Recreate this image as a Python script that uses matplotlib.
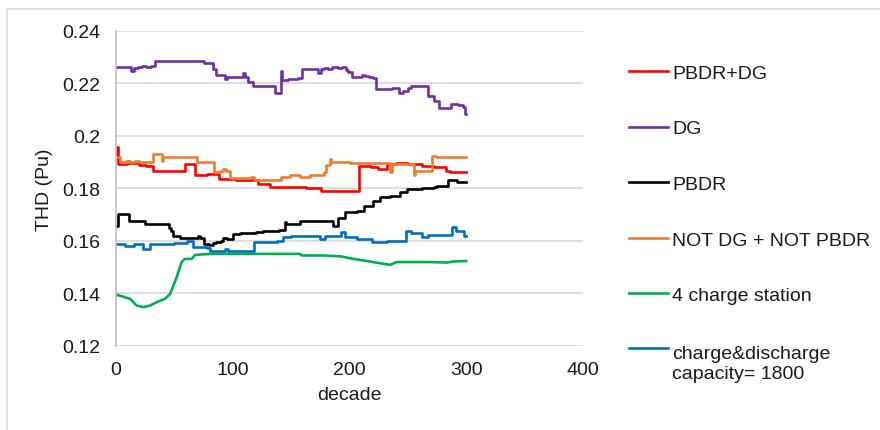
import matplotlib.pyplot as plt
from matplotlib.lines import Line2D
from matplotlib.patches import Rectangle

plt.rcParams['font.family'] = ['Liberation Sans', 'DejaVu Sans']

W, H = 880, 431  # output size in pixels
TEXT = '#1a1a1a'
FS = 14

labels = ['PBDR+DG', 'DG', 'PBDR', 'NOT DG + NOT PBDR', '4 charge station',
          'charge&discharge\ncapacity= 1800']
colors = ['#ff0000', '#7030a0', '#000000', '#ed7d31', '#00b050', '#0070c0']

# step series: x where a new value starts, and that value
pbdr_dg_x = [0, 0.5, 2, 9, 11, 20, 26, 32, 59, 68, 78, 88, 103, 110, 122, 132,
             150, 163, 176, 208, 218, 224, 232, 240, 250, 262, 272, 283, 286, 300]
pbdr_dg_y = [0.1930, 0.1957, 0.1893, 0.1906, 0.1895, 0.1890, 0.1886, 0.1868,
             0.1893, 0.1849, 0.1853, 0.1836, 0.1833, 0.1830, 0.1817, 0.1807,
             0.1804, 0.1800, 0.1791, 0.1886, 0.1880, 0.1874, 0.1893, 0.1897,
             0.1893, 0.1887, 0.1882, 0.1868, 0.1861, 0.1861]

dg_x = [0, 13, 15.5, 19, 22, 26, 30, 33, 73.5, 75, 83, 86, 93, 95.5, 109,
        110.5, 113, 117.5, 136, 141.5, 142.5, 147, 156, 159, 173, 175.5, 178,
        182, 185, 190, 194, 197, 199, 202, 211, 213, 217, 220, 223, 236, 242,
        246, 250, 253, 267, 272, 277, 287, 293, 297, 299, 300]
dg_y = [0.2262, 0.2249, 0.2258, 0.2262, 0.2266, 0.2264, 0.2268, 0.2285,
        0.2287, 0.2278, 0.2255, 0.2234, 0.2217, 0.2226, 0.2238, 0.2226,
        0.2204, 0.2189, 0.2163, 0.2246, 0.2213, 0.2216, 0.2220, 0.2255,
        0.2238, 0.2255, 0.2260, 0.2255, 0.2262, 0.2258, 0.2264, 0.2250,
        0.2243, 0.2224, 0.2232, 0.2228, 0.2226, 0.2219, 0.2179, 0.2181,
        0.2163, 0.2170, 0.2181, 0.2192, 0.2153, 0.2134, 0.2107, 0.2122,
        0.2118, 0.2112, 0.2085, 0.2085]

pbdr_x = [0, 1.5, 11, 25, 45, 47, 49, 55, 70.5, 72, 75, 80, 83, 86, 90, 92,
          95, 100, 106, 112, 120, 126, 140, 145, 146, 158, 186, 190, 196, 206,
          212, 220, 226, 235, 243, 249, 262, 272, 275, 284, 292, 300]
pbdr_y = [0.1658, 0.1702, 0.1677, 0.1664, 0.1650, 0.1638, 0.1620, 0.1611,
          0.1620, 0.1611, 0.1588, 0.1585, 0.1592, 0.1596, 0.1601, 0.1612,
          0.1607, 0.1626, 0.1629, 0.1630, 0.1633, 0.1638, 0.1642, 0.1671,
          0.1665, 0.1677, 0.1658, 0.1686, 0.1708, 0.1712, 0.1734, 0.1753,
          0.1766, 0.1772, 0.1785, 0.1798, 0.1802, 0.1806, 0.1810, 0.1830,
          0.1826, 0.1826]

not_x = [0, 3, 10, 12, 16, 20, 32, 38, 39, 40, 60, 69, 84, 89, 92, 94, 98,
         116, 118, 135, 141, 149, 158, 166, 178, 180, 183, 184, 200, 234.7,
         236, 255, 256, 271, 274, 300]
not_y = [0.1918, 0.1900, 0.1906, 0.1900, 0.1903, 0.1900, 0.1931, 0.1931,
         0.1905, 0.1918, 0.1918, 0.1900, 0.1861, 0.1868, 0.1875, 0.1868,
         0.1839, 0.1844, 0.1830, 0.1833, 0.1844, 0.1849, 0.1843, 0.1851,
         0.1864, 0.1889, 0.1912, 0.1900, 0.1897, 0.1861, 0.1893, 0.1849,
         0.1868, 0.1925, 0.1918, 0.1918]

station_x = [0, 12, 17.7, 23.4, 29.1, 34.8, 42, 46.3, 52, 56.2, 59.1, 64.8,
             67.7, 80.5, 120, 157.6, 159, 177.6, 191.9, 203.3, 217.6, 234.7,
             240.4, 268.9, 283.2, 288.9, 300]
station_y = [0.1395, 0.1379, 0.1353, 0.1347, 0.1353, 0.1366, 0.1379, 0.1397,
             0.1461, 0.1519, 0.1531, 0.1531, 0.1546, 0.1550, 0.1550, 0.1550,
             0.1544, 0.1544, 0.1541, 0.1531, 0.1521, 0.1508, 0.1519, 0.1519,
             0.1517, 0.1521, 0.1523]

cd_x = [0, 8, 15, 23, 29, 40, 50, 60.5, 66, 77.7, 80.5, 93.4, 96, 118, 128,
        137.6, 143.3, 150, 160, 175, 179, 193, 196, 206, 219, 232, 248, 253,
        262, 267.5, 288, 291, 298, 300]
cd_y = [0.1586, 0.1582, 0.1586, 0.1569, 0.1588, 0.1586, 0.1590, 0.1601,
        0.1576, 0.1572, 0.1563, 0.1569, 0.1561, 0.1595, 0.1597, 0.1601,
        0.1614, 0.1618, 0.1620, 0.1607, 0.1620, 0.1633, 0.1614, 0.1607,
        0.1595, 0.1601, 0.1639, 0.1628, 0.1614, 0.1624, 0.1652, 0.1639,
        0.1620, 0.1620]

series = [(pbdr_dg_x, pbdr_dg_y, 'steps-post'),
          (dg_x, dg_y, 'steps-post'),
          (pbdr_x, pbdr_y, 'steps-post'),
          (not_x, not_y, 'steps-post'),
          (station_x, station_y, 'default'),
          (cd_x, cd_y, 'steps-post')]

xticks = [0, 100, 200, 300, 400]
yticks = [0.12, 0.14, 0.16, 0.18, 0.2, 0.22, 0.24]
ytick_labels = ['0.12', '0.14', '0.16', '0.18', '0.2', '0.22', '0.24']

fig = plt.figure(figsize=(W / 100, H / 100), dpi=100)
ax = fig.add_axes([116 / W, 1 - 346.7 / H, 467 / W, 314.7 / H])

for (x, y, ds), lab, c in zip(series, labels, colors):
    ax.plot(x, y, color=c, lw=1.9, drawstyle=ds, label=lab)

ax.set_xlim(0, 400)
ax.set_ylim(0.12, 0.24)
ax.set_xticks(xticks)
ax.set_yticks(yticks)
ax.set_yticklabels(ytick_labels)
ax.tick_params(length=0, labelsize=FS, colors=TEXT, pad=11)
ax.grid(axis='y', color='#d9d9d9', lw=1.2)
ax.set_axisbelow(True)
for s in ['top', 'right', 'bottom']:
    ax.spines[s].set_visible(False)
ax.spines['left'].set_color('#bfbfbf')
ax.spines['left'].set_linewidth(1.2)

ax.set_xlabel('decade', fontsize=FS, color=TEXT, labelpad=6)
ax.set_ylabel('THD (Pu)', fontsize=FS, color=TEXT, labelpad=7)

# legend drawn by hand, Excel style with wide spacing
leg_y = [72, 127.5, 183, 238.7, 294, 348.7]
line_gap = 23  # px between the two lines of the last label
for yc, lab, c in zip(leg_y, labels, colors):
    fy = 1 - yc / H
    fig.add_artist(Line2D([629 / W, 668 / W], [fy, fy], color=c, lw=1.9))
    extra = lab.count('\n') * line_gap
    fig.text(672 / W, 1 - (yc + 7 + extra) / H, lab, fontsize=FS, color=TEXT,
             va='baseline', ha='left', linespacing=1.2)

# light chart-area border
fig.add_artist(Rectangle((7 / W, -0.1), 1.2, 1.1 - 10 / H,
                         transform=fig.transFigure, fill=False,
                         edgecolor='#d9d9d9', lw=1.2))

fig.savefig('out.png', dpi=100)
